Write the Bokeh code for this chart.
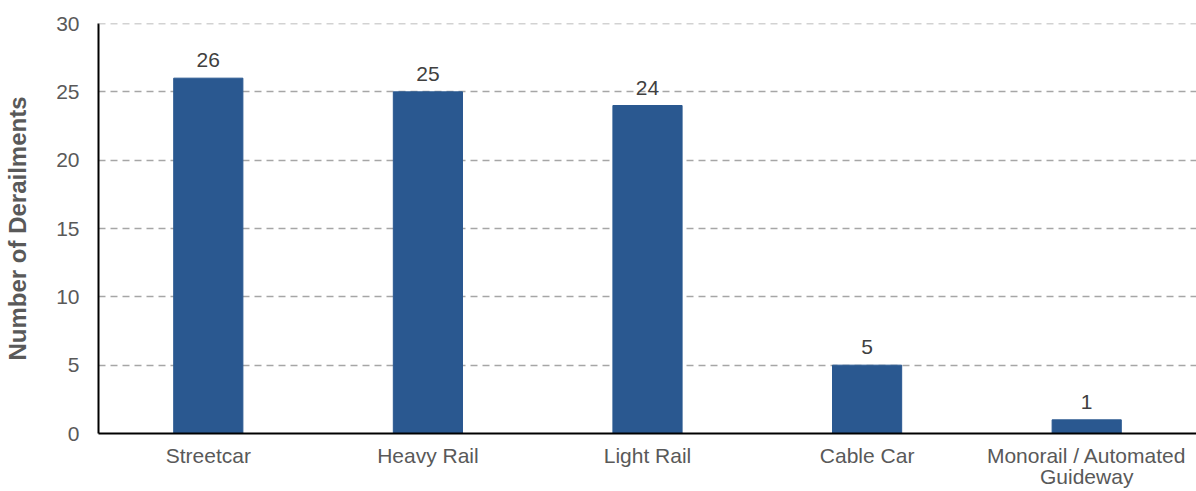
from bokeh.plotting import figure
from bokeh.models import ColumnDataSource, FactorRange, Range1d, FixedTicker, Span
from bokeh.core.properties import value
from bokeh.embed import file_html
from bokeh.resources import INLINE

categories = ["Streetcar", "Heavy Rail", "Light Rail", "Cable Car", "Monorail / Automated\nGuideway"]
derailments = [26, 25, 24, 5, 1]
y_ticks = [0, 5, 10, 15, 20, 25, 30]

src = ColumnDataSource(dict(cat=categories, val=derailments, lab=[str(v) for v in derailments]))

p = figure(x_range=FactorRange(factors=categories), y_range=Range1d(y_ticks[0], y_ticks[-1]),
           width=1196, height=491, output_backend="svg", toolbar_location=None,
           min_border_left=98, min_border_right=0, min_border_top=23, min_border_bottom=58)
p.outline_line_color = None

p.vbar(x="cat", top="val", width=0.315, source=src, fill_color="#2A5890", line_color="#2A5890")
p.text(x="cat", y="val", text="lab", source=src, text_align="center", text_baseline="bottom",
       y_offset=-11, text_font=value("Liberation Sans"), text_font_size="21px", text_color="#404040")

p.xgrid.grid_line_color = None
p.ygrid.grid_line_color = "#A6A6A6"
p.ygrid.grid_line_dash = "7 5"
p.ygrid.grid_line_width = 1.3
p.add_layout(Span(location=y_ticks[-1], dimension="width", line_color="#A6A6A6",
                  line_dash="7 5", line_width=1.3))

p.yaxis.ticker = FixedTicker(ticks=y_ticks)
p.yaxis.axis_label = "Number of Derailments"
p.yaxis.axis_label_text_font = "Liberation Sans"
p.yaxis.axis_label_text_font_style = "bold"
p.yaxis.axis_label_text_font_size = "24px"
p.yaxis.axis_label_text_color = "#595959"
p.yaxis.axis_label_standoff = 22

for ax in (p.xaxis, p.yaxis):
    ax.axis_line_color = "black"
    ax.axis_line_width = 2
    ax.major_tick_line_color = None
    ax.minor_tick_line_color = None
    ax.major_label_text_font = "Liberation Sans"
    ax.major_label_text_font_size = "21px"
    ax.major_label_text_color = "#595959"

p.xaxis.major_label_text_line_height = 0.95
p.yaxis.major_label_standoff = 13
p.xaxis.major_label_standoff = 4

open("out.html", "w").write(file_html(p, INLINE))
